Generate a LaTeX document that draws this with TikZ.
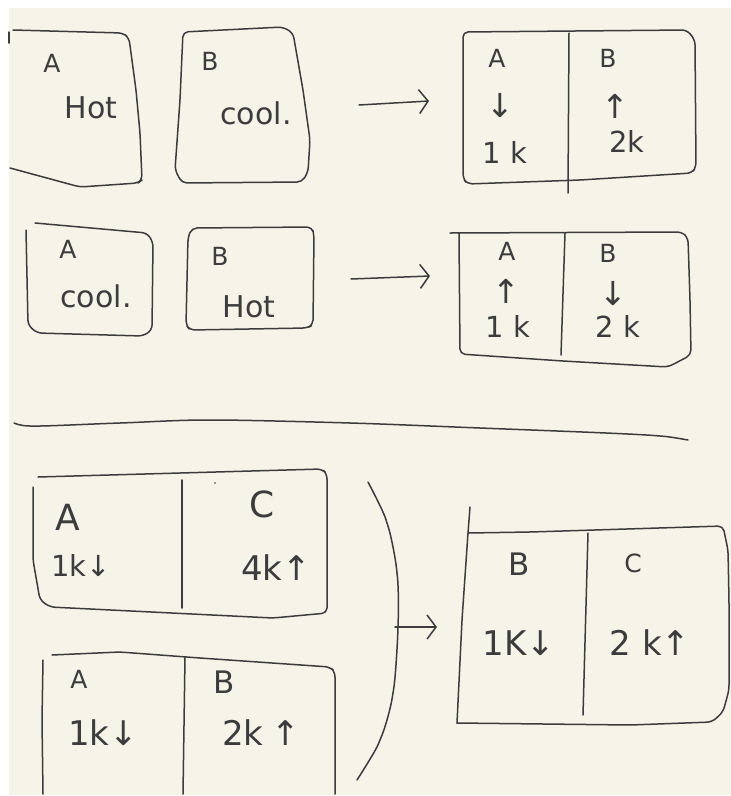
\documentclass[tikz,border=0pt]{standalone}
\usepackage{fontspec}
\setmainfont{DejaVu Sans}
\usetikzlibrary{arrows.meta}
\definecolor{paper}{HTML}{F6F4E8}
\definecolor{ink}{HTML}{3C3C3C}
\begin{document}
\begin{tikzpicture}[x=1pt,y=-1pt,>={Straight Barb[length=9pt,width=24pt]},
  pen/.style={ink,line width=1.5pt,line cap=round,line join=round,rounded corners=5pt},
  lbl/.style={ink,inner sep=0pt,anchor=base,font=\fontsize{25}{25}\selectfont},
  lblbig/.style={lbl,font=\fontsize{36}{36}\selectfont},
  lblmid/.style={lbl,font=\fontsize{31}{31}\selectfont},
  word/.style={lbl,font=\fontsize{30}{30}\selectfont},
  val/.style={lbl,font=\fontsize{29}{29}\selectfont},
  valbig/.style={lbl,font=\fontsize{34}{34}\selectfont},
  dir/.style={ink,inner sep=0pt,font=\fontsize{33}{33}\selectfont}]

\useasboundingbox (0,0) rectangle (731,796);
\fill[white] (0,0) rectangle (731,796);
\fill[paper] (9,8) rectangle (731,795);

% first pair: A hot, B cool
\draw[pen] (9,32) -- (9,43);
\draw[pen] (13,30) -- (123,33) -- (129,38) -- (136,90) -- (140,133) -- (142,180) -- (138,183) -- (80,187) -- (10,168);
\draw[pen] (183,32) -- (283,27) -- (293,33) -- (303,90) -- (310,140) -- (308,172) -- (302,182) -- (182,183) -- (175,170) -- (180,100) -- cycle;
\node[lbl] (a1) at (52,72) {A};
\node[word] (a1t) at (91,118) {Hot};
\node[lbl] (b1) at (210,70) {B};
\node[word] (b1t) at (256,124) {cool.};

\coordinate (r1s) at (359,105);
\coordinate (r1e) at (429,101);
\draw[pen,->] (r1s) -- (r1e);

\draw[pen] (463,32) -- (687,30) -- (695,40) -- (696,167) -- (692,173) -- (580,180) -- (467,184) -- (463,178) -- cycle;
\draw[pen] (569,33) -- (568,193);
\node[lbl] (ab1a) at (497,67) {A};
\node[dir] (ab1ad) at (500,106) {↓};
\node[val] (ab1av) at (505,163) {1 k};
\node[lbl] (ab1b) at (608,67) {B};
\node[dir] (ab1bd) at (615,106) {↑};
\node[val] (ab1bv) at (627,152) {2k};

% second pair: A cool, B hot
\draw[pen] (35,223) -- (147,233) -- (153,242) -- (152,330) -- (143,336) -- (37,333) -- (28,325) -- (26,230);
\draw[pen] (192,228) -- (312,227) -- (314,235) -- (313,325) -- (307,328) -- (190,330) -- (186,325) -- (188,237) -- cycle;
\node[lbl] (a2) at (68,258) {A};
\node[word] (a2t) at (96,307) {cool.};
\node[lbl] (b2) at (220,265) {B};
\node[word] (b2t) at (249,317) {Hot};

\coordinate (r2s) at (351,279);
\coordinate (r2e) at (430,276);
\draw[pen,->] (r2s) -- (r2e);

\draw[pen] (450,233) -- (682,232) -- (688,238) -- (690,300) -- (691,355) -- (668,367) -- (563,361) -- (460,354) -- (459,234);
\draw[pen] (565,233) -- (561,355);
\node[lbl] (ab2a) at (507,260) {A};
\node[dir] (ab2ad) at (506,291) {↑};
\node[val] (ab2av) at (508,337) {1 k};
\node[lbl] (ab2b) at (608,262) {B};
\node[dir] (ab2bd) at (613,294) {↓};
\node[val] (ab2bv) at (618,337) {2 k};

\draw[pen] plot[smooth] coordinates {(14,423) (35,426) (120,423) (210,420) (350,423) (480,428) (606,433) (660,436) (688,440)};

% A-C and A-B combined into B-C
\draw[pen] (38,477) -- (180,473) -- (322,469) -- (327,474) -- (327,613) -- (273,618) -- (50,607) -- (40,600) -- (33,560) -- (33,487);
\draw[pen] (182,480) -- (182,608);
\fill[ink] (215,483) circle (0.9pt);
\node[lblbig] (ac1) at (68,530) {A};
\node[val] (ac1v) at (81,576) {1k↓};
\node[lblbig] (ac2) at (262,517) {C};
\node[valbig] (ac2v) at (276,580) {4k↑};

\draw[pen] (52,655) -- (120,652) -- (200,658) -- (330,667) -- (335,672) -- (335,794);
\draw[pen] (43,660) -- (42,720) -- (43,794);
\draw[pen] (185,657) -- (183,794);
\node[lbl] (ab3a) at (79,688) {A};
\node[valbig] (ab3av) at (103,745) {1k↓};
\node[lblmid] (ab3b) at (224,693) {B};
\node[valbig] (ab3bv) at (261,745) {2k\hspace{8pt}↑};

\draw[pen] plot[smooth] coordinates {(368,482) (387,523) (397,573) (398,627) (393,693) (380,740) (357,780)};
\coordinate (r3s) at (395,627);
\coordinate (r3e) at (437,627);
\draw[pen,->] (r3s) -- (r3e);

\draw[pen] (470,507) -- (468,533) -- (462,620) -- (457,723);
\draw[pen] (457,723) -- (630,725) -- (712,722) -- (723,712) -- (729,690) -- (729,600) -- (728,550) -- (723,526) -- (530,532) -- (468,533);
\draw[pen] (588,533) -- (583,715);
\node[lblmid] (bc1) at (519,575) {B};
\node[valbig] (bc1v) at (519,655) {1K↓};
\node[lbl] (bc2) at (633,572) {C};
\node[valbig] (bc2v) at (650,655) {2 k↑};
\end{tikzpicture}
\end{document}
